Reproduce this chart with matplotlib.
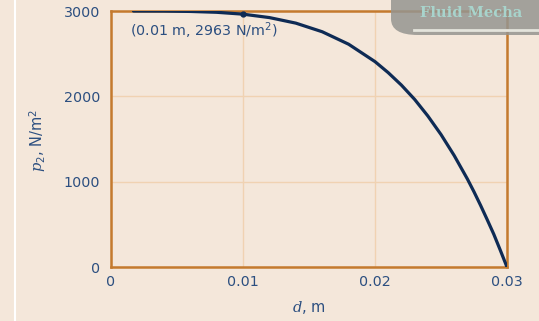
import matplotlib
matplotlib.use('Agg')

import matplotlib.pyplot as plt
from matplotlib.patches import FancyBboxPatch
from matplotlib.lines import Line2D

# Dados: pressão p2 em função de d
d_vals = [0.0017, 0.004, 0.006, 0.008, 0.01, 0.012, 0.014, 0.016, 0.018, 0.02,
          0.021, 0.022, 0.023, 0.024, 0.025, 0.026, 0.027, 0.0275, 0.028,
          0.0285, 0.029, 0.0295, 0.03]
p2_vals = [3000, 2999, 2995, 2985, 2963, 2923, 2858, 2757, 2611, 2407,
           2278, 2132, 1965, 1771, 1553, 1307, 1032, 882, 723,
           556, 385, 195, 0]
ponto_d = 0.01
ponto_p = 2963
ponto_texto = '(0.01 m, 2963 N/m$^2$)'

x_ticks = [0, 0.01, 0.02, 0.03]
x_ticklabels = ['0', '0.01', '0.02', '0.03']
y_ticks = [0, 1000, 2000, 3000]

bg = '#f4e7da'
laranja = '#c47a2e'
grade = '#f0d2b2'
azul_texto = '#2c4f80'
azul_curva = '#0e2b55'

plt.rcParams['font.family'] = ['DejaVu Sans']
plt.rcParams['mathtext.fontset'] = 'custom'
plt.rcParams['mathtext.rm'] = 'DejaVu Sans'
plt.rcParams['mathtext.it'] = 'DejaVu Serif:italic'

fig = plt.figure(figsize=(5.39, 3.21), dpi=100, facecolor=bg)
ax = fig.add_axes([0.206, 0.168, 0.7346, 0.7977])
ax.set_facecolor(bg)

ax.plot(d_vals, p2_vals, color=azul_curva, lw=2.3, solid_capstyle='round', zorder=3)
ax.plot([ponto_d], [ponto_p], 'o', color=azul_curva, ms=3.5, zorder=4)
ax.text(0.00142, 2770, ponto_texto, fontsize=10.3, color=azul_texto, va='center', ha='left')

ax.set_xlim(0, 0.03)
ax.set_ylim(0, 3000)
ax.set_xticks(x_ticks)
ax.set_xticklabels(x_ticklabels)
ax.set_yticks(y_ticks)
ax.tick_params(length=0, colors=azul_texto, labelsize=10.3)
ax.tick_params(axis='x', pad=6)
ax.tick_params(axis='y', pad=8)
ax.grid(True, color=grade, lw=1.0)
ax.set_axisbelow(True)
for s in ax.spines.values():
    s.set_color(laranja)
    s.set_linewidth(1.8)

ax.set_xlabel(r'$d$, m', fontsize=10.5, color=azul_texto, labelpad=7)
fig.text(38 / 539, 1 - 140 / 321, r'$p_2$, N/m$^2$', fontsize=10.5, color=azul_texto,
         rotation=90, ha='center', va='center')

# linha branca à esquerda
fig.add_artist(Line2D([15 / 539, 15 / 539], [0, 1], color='white', lw=1.5,
                      transform=fig.transFigure))

# caixa cinza no canto superior direito
caixa = FancyBboxPatch((391 / 539, 1 - 35 / 321), 0.4, 0.2,
                       boxstyle='round,pad=0,rounding_size=0.05',
                       transform=fig.transFigure, facecolor='#959590',
                       edgecolor='none', alpha=0.85, zorder=10)
fig.add_artist(caixa)
fig.add_artist(Line2D([414 / 539, 1], [1 - 30 / 321, 1 - 30 / 321], color='#e4e4dc',
                      lw=2, transform=fig.transFigure, zorder=11))
fig.text(420 / 539, 1 - 13 / 321, 'Fluid Mecha', fontsize=10.5, color='#a8d4cc',
         fontweight='bold', family='DejaVu Serif', va='center', ha='left', zorder=12)

fig.savefig('out.png', dpi=100, facecolor=bg)
